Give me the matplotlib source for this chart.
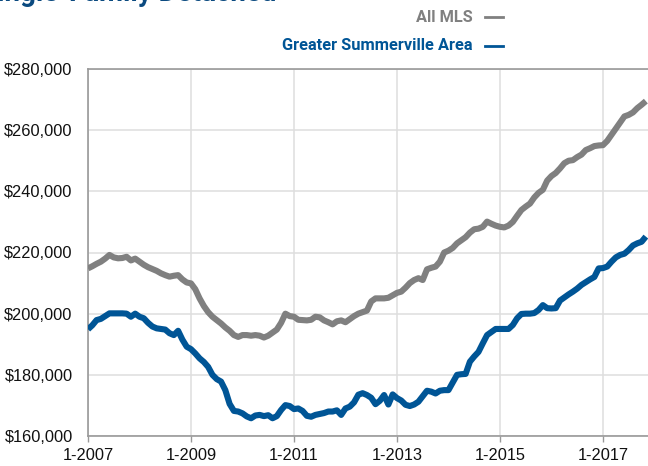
import matplotlib
matplotlib.use("Agg")
import matplotlib.pyplot as plt
from matplotlib.lines import Line2D
import numpy as np

# Monthly values (in thousands of dollars), Jan 2007 .. Nov 2017
all_mls = [
    214.8, 215.5, 216.3, 217.0, 218.0, 219.2, 218.4, 218.1, 218.2, 218.6, 217.4, 218.0,
    217.0, 216.0, 215.2, 214.6, 214.0, 213.2, 212.6, 212.1, 212.4, 212.6, 211.2, 210.2,
    209.9, 208.0, 205.0, 202.5, 200.5, 199.0, 197.9, 196.8, 195.5, 194.4, 193.0, 192.4,
    193.0, 193.0, 192.8, 193.0, 192.8, 192.2, 192.8, 193.8, 194.8, 197.0, 200.0, 199.2,
    199.0, 198.0, 197.9, 197.8, 198.0, 199.0, 198.8, 197.8, 197.2, 196.5, 197.5, 197.8,
    197.2, 198.2, 199.2, 200.0, 200.5, 201.0, 204.0, 205.0, 205.0, 205.0, 205.2, 206.0,
    206.8, 207.2, 208.5, 210.0, 211.0, 211.6, 211.0, 214.5, 215.0, 215.4, 217.0, 220.0,
    220.6, 221.5, 223.0, 224.0, 225.0, 226.5, 227.6, 227.8, 228.4, 230.1, 229.4, 228.8,
    228.4, 228.2, 228.8, 230.0, 232.0, 233.9, 235.0, 236.0, 238.0, 239.5, 240.5, 243.5,
    245.0, 246.0, 247.5, 249.2, 250.0, 250.2, 251.2, 252.0, 253.5, 254.1, 254.8, 255.0,
    255.1, 256.5, 258.5, 260.5, 262.5, 264.5, 265.0, 265.8, 267.2, 268.3, 269.5,
]
summerville = [
    194.9, 196.2, 197.9, 198.3, 199.2, 200.1, 200.1, 200.1, 200.1, 200.0, 199.0, 200.0,
    199.0, 198.5, 197.0, 195.8, 195.2, 195.0, 194.8, 193.6, 193.0, 194.4, 191.5, 189.2,
    188.4, 187.0, 185.4, 184.2, 182.6, 180.0, 178.6, 177.8, 175.0, 170.5, 168.2, 168.0,
    167.4, 166.4, 165.8, 166.7, 166.9, 166.5, 166.8, 165.8, 166.5, 168.5, 170.1, 169.8,
    168.8, 169.0, 168.2, 166.6, 166.3, 166.9, 167.2, 167.5, 168.0, 168.0, 168.4, 166.9,
    169.0, 169.6, 171.0, 173.5, 174.0, 173.4, 172.5, 170.4, 171.5, 173.4, 170.3, 173.6,
    172.4, 171.6, 170.2, 169.8, 170.3, 171.2, 173.0, 174.8, 174.5, 173.9, 174.8, 175.0,
    175.0, 177.5, 180.0, 180.2, 180.3, 184.3, 186.0, 187.5, 190.3, 193.0, 194.0, 195.0,
    195.0, 195.0, 195.0, 196.3, 198.5, 199.9, 200.0, 200.0, 200.2, 201.2, 202.8, 201.8,
    201.7, 201.8, 204.3, 205.3, 206.3, 207.2, 208.2, 209.4, 210.3, 211.2, 212.0, 214.8,
    214.9, 215.4, 217.0, 218.4, 219.2, 219.6, 220.8, 222.3, 223.0, 223.5, 225.2,
]
series_names = ["All MLS", "Greater Summerville Area"]
tick_labels = ["1-2007", "1-2009", "1-2011", "1-2013", "1-2015", "1-2017"]
y_ticks = [160000, 180000, 200000, 220000, 240000, 260000, 280000]
title = "Single-Family Detached"

GRAY = "#808080"
BLUE = "#005596"
TITLE_BLUE = "#0b4a80"

W, H = 648, 466
fig = plt.figure(figsize=(W / 100, H / 100), dpi=100)
left, right, top, bottom = 88, 648, 69, 436
ax = fig.add_axes([left / W, 1 - bottom / H, (right - left) / W, (bottom - top) / H])

months = np.arange(len(all_mls))
ax.plot(months, np.array(all_mls) * 1000, color=GRAY, lw=4.4,
        solid_joinstyle="round", solid_capstyle="butt", zorder=3)
ax.plot(months, np.array(summerville) * 1000, color=BLUE, lw=4.4,
        solid_joinstyle="round", solid_capstyle="butt", zorder=4)

ax.set_xlim(0, 130.5)
ax.set_ylim(160000, 280000)
ax.set_xticks([0, 24, 48, 72, 96, 120])
ax.set_xticklabels(tick_labels)
ax.set_yticks(y_ticks)
ax.set_yticklabels([f"${v:,.0f}" for v in y_ticks])

for lab in ax.get_xticklabels() + ax.get_yticklabels():
    lab.set_fontfamily(["Liberation Sans", "DejaVu Sans"])
    lab.set_fontsize(11.8)
    lab.set_color("#111111")

ax.tick_params(axis="x", length=4, width=1, color="#999999", pad=5, direction="out")
ax.tick_params(axis="y", length=0, pad=11)

ax.grid(True, color="#dedede", lw=1.1, zorder=0)
ax.set_axisbelow(True)
for s in ["left", "bottom", "top"]:
    ax.spines[s].set_color("#999999")
    ax.spines[s].set_linewidth(1.2)
ax.spines["right"].set_visible(False)

# Legend (top right)
leg_font = ["Roboto", "DejaVu Sans"]
fig.text(473 / W, 1 - 17 / H, series_names[0], ha="right", va="center",
         fontsize=11.8, fontweight="bold", color=GRAY, family=leg_font)
fig.text(473 / W, 1 - 46 / H, series_names[1], ha="right", va="center",
         fontsize=11.8, fontweight="bold", color=BLUE, family=leg_font)
fig.add_artist(Line2D([485 / W, 503 / W], [1 - 17 / H, 1 - 17 / H],
                      color=GRAY, lw=2.0, transform=fig.transFigure))
fig.add_artist(Line2D([485 / W, 503 / W], [1 - 46 / H, 1 - 46 / H],
                      color=BLUE, lw=2.0, transform=fig.transFigure))

# Title, mostly cut off at the top edge (as in the reference)
fig.text(-20 / W, 1 - 1 / H, title, ha="left", va="baseline", fontsize=20,
         fontweight="bold", color=TITLE_BLUE, family=leg_font)

fig.savefig("out.png", dpi=100)
